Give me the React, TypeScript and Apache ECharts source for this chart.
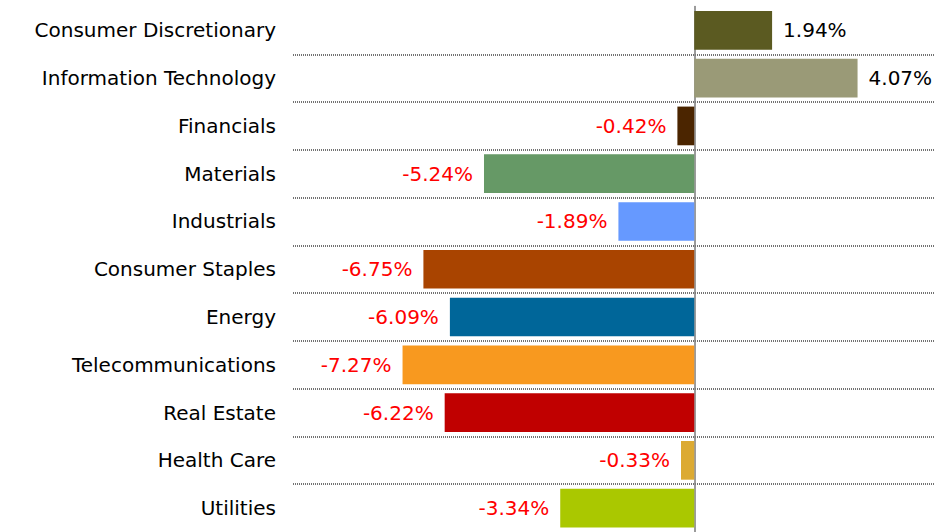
import React, { useEffect, useRef } from "react";
import * as echarts from "echarts";

const categories = [
  "Consumer Discretionary",
  "Information Technology",
  "Financials",
  "Materials",
  "Industrials",
  "Consumer Staples",
  "Energy",
  "Telecommunications",
  "Real Estate",
  "Health Care",
  "Utilities",
];
const values = [1.94, 4.07, -0.42, -5.24, -1.89, -6.75, -6.09, -7.27, -6.22, -0.33, -3.34];
const barColors = [
  "#5B5A21",
  "#9A9A77",
  "#4B2500",
  "#669966",
  "#6699FF",
  "#A94400",
  "#006699",
  "#F8991F",
  "#C00000",
  "#DCAA32",
  "#AAC800",
];

export default function App() {
  const ref = useRef<HTMLDivElement>(null);
  useEffect(() => {
    document.body.style.margin = "0";
    const chart = echarts.init(ref.current!, null, { renderer: "svg" });
    chart.setOption({
      animation: false,
      backgroundColor: "#ffffff",
      grid: { left: 293, top: 6.5, width: 642, height: 528, containLabel: false },
      xAxis: {
        type: "value",
        min: -10,
        max: 6,
        show: false,
      },
      yAxis: {
        type: "category",
        data: categories,
        inverse: true,
        axisLine: { show: true, onZero: true, lineStyle: { color: "#7a7a7a", width: 1.5 } },
        axisTick: { show: false },
        axisLabel: {
          margin: 17,
          fontFamily: "DejaVu Sans",
          fontSize: 20,
          color: "#000000",
          padding: [6, 0, 0, 0],
        },
        splitLine: {
          show: true,
          showMinLine: false,
          showMaxLine: false,
          lineStyle: { color: "#444444", width: 1.6, type: [1, 1] },
        },
      },
      series: [
        {
          type: "bar",
          barCategoryGap: "19%",
          data: values.map((v, i) => ({
            value: v,
            itemStyle: { color: barColors[i] },
            label: {
              show: true,
              position: v >= 0 ? "right" : "left",
              distance: 11,
              color: v >= 0 ? "#000000" : "#FF0000",
              fontFamily: "DejaVu Sans",
              fontSize: 20,
              padding: [5, 0, 0, 0],
              formatter: () => v.toFixed(2) + "%",
            },
          })),
        },
      ],
    });
    return () => chart.dispose();
  }, []);
  return <div ref={ref} style={{ width: 942, height: 532 }} />;
}
